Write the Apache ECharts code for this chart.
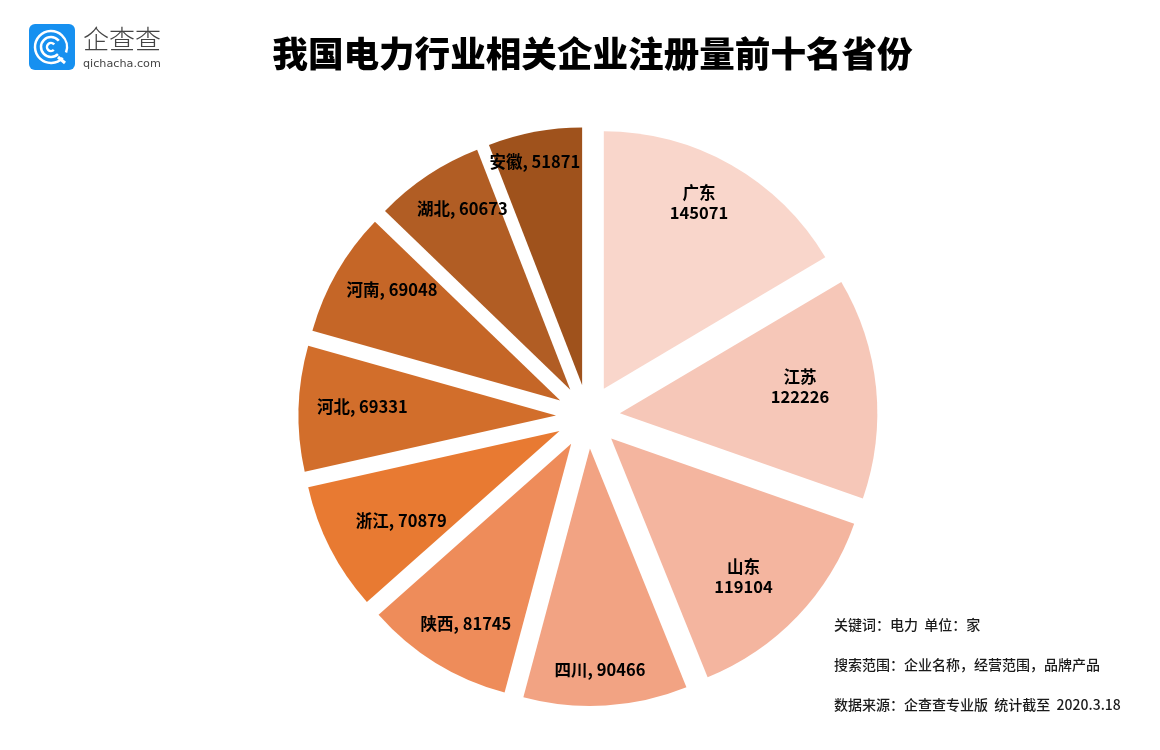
<!DOCTYPE html>
<html>
<head>
<meta charset="utf-8">
<title>我国电力行业相关企业注册量前十名省份</title>
<style>
html, body { margin: 0; padding: 0; background: #fff; }
#main { width: 1160px; height: 750px; }
</style>
<script src="https://cdn.jsdelivr.net/npm/echarts@6/dist/echarts.min.js"></script>
</head>
<body>
<div id="main"></div>
<script>
var provinces = ['广东', '江苏', '山东', '四川', '陕西', '浙江', '河北', '河南', '湖北', '安徽'];
var counts = [145071, 122226, 119104, 90466, 81745, 70879, 69331, 69048, 60673, 51871];
var colors = ['#f9d6cb', '#f6c7b8', '#f4b59f', '#f2a383', '#ee8c5a', '#e87a32', '#d26e2b', '#c56627', '#b15d24', '#9f521c'];
// 标签相对扇区中点的偏移
var labelOffsets = [[30, -71], [49, -14], [37, 47], [2, 90], [-36, 68], [-41, 30], [-62, -5], [-54, -45], [-35, -71], [-23, -94]];
var notes = ['关键词：电力  单位：家', '搜索范围：企业名称，经营范围，品牌产品', '数据来源：企查查专业版  统计截至  2020.3.18'];
var noteTops = [626, 666, 706];
var cjkFont = '"Noto Sans CJK SC", "Noto Sans", sans-serif';

var myChart = echarts.init(document.getElementById('main'));

var pieData = provinces.map(function(name, i) {
    return {
        name: name,
        value: counts[i],
        selected: true,
        itemStyle: { color: colors[i] }
    };
});

var noteGraphics = notes.map(function(text, i) {
    return {
        type: 'text',
        left: 834,
        top: noteTops[i] - 8,
        silent: true,
        style: { text: text, font: '500 14px ' + cjkFont, fill: '#1a1a1a' }
    };
});

// 企查查 logo
var logoGraphics = [
    { type: 'rect', shape: { x: 29, y: 24, width: 46, height: 46, r: 6 }, style: { fill: '#1690f0' } },
    { type: 'arc', shape: { cx: 51, cy: 47, r: 16, startAngle: 0.75, endAngle: 0.35 }, style: { stroke: '#fff', lineWidth: 2.5, fill: null } },
    { type: 'arc', shape: { cx: 51, cy: 47, r: 10, startAngle: 0.8, endAngle: 5.6 }, style: { stroke: '#fff', lineWidth: 2.5, fill: null } },
    { type: 'arc', shape: { cx: 51, cy: 47, r: 4, startAngle: 0.8, endAngle: 5.6 }, style: { stroke: '#fff', lineWidth: 2.5, fill: null } },
    { type: 'line', shape: { x1: 58, y1: 57, x2: 65, y2: 63 }, style: { stroke: '#fff', lineWidth: 3 } },
    { type: 'text', left: 83, top: 26, style: { text: '企查查', font: '300 26px ' + cjkFont, fill: '#444' } },
    { type: 'text', left: 83, top: 59, style: { text: 'qichacha.com', font: '11.2px "DejaVu Sans", sans-serif', fill: '#444' } }
];

var option = {
    backgroundColor: '#fff',
    animation: false,
    title: {
        text: '我国电力行业相关企业注册量前十名省份',
        left: 587.5,
        top: 31,
        textAlign: 'center',
        textStyle: { fontFamily: cjkFont, fontSize: 35.6, fontWeight: 900, color: '#000' }
    },
    graphic: logoGraphics.concat(noteGraphics),
    series: [{
        type: 'pie',
        center: [588, 416.5],
        radius: [0, 257.5],
        startAngle: 90,
        clockwise: true,
        selectedMode: 'multiple',
        selectedOffset: 32,
        avoidLabelOverlap: false,
        silent: true,
        label: {
            show: true,
            position: 'inside',
            fontFamily: cjkFont,
            fontSize: 16.5,
            fontWeight: 600,
            color: '#000',
            lineHeight: 20,
            formatter: function(p) {
                // 前三名标签分两行
                return p.dataIndex < 3 ? p.name + '\n' + p.value : p.name + ', ' + p.value;
            }
        },
        labelLayout: function(params) {
            return { dx: labelOffsets[params.dataIndex][0], dy: labelOffsets[params.dataIndex][1] };
        },
        labelLine: { show: false },
        data: pieData
    }]
};

myChart.setOption(option);
</script>
</body>
</html>
